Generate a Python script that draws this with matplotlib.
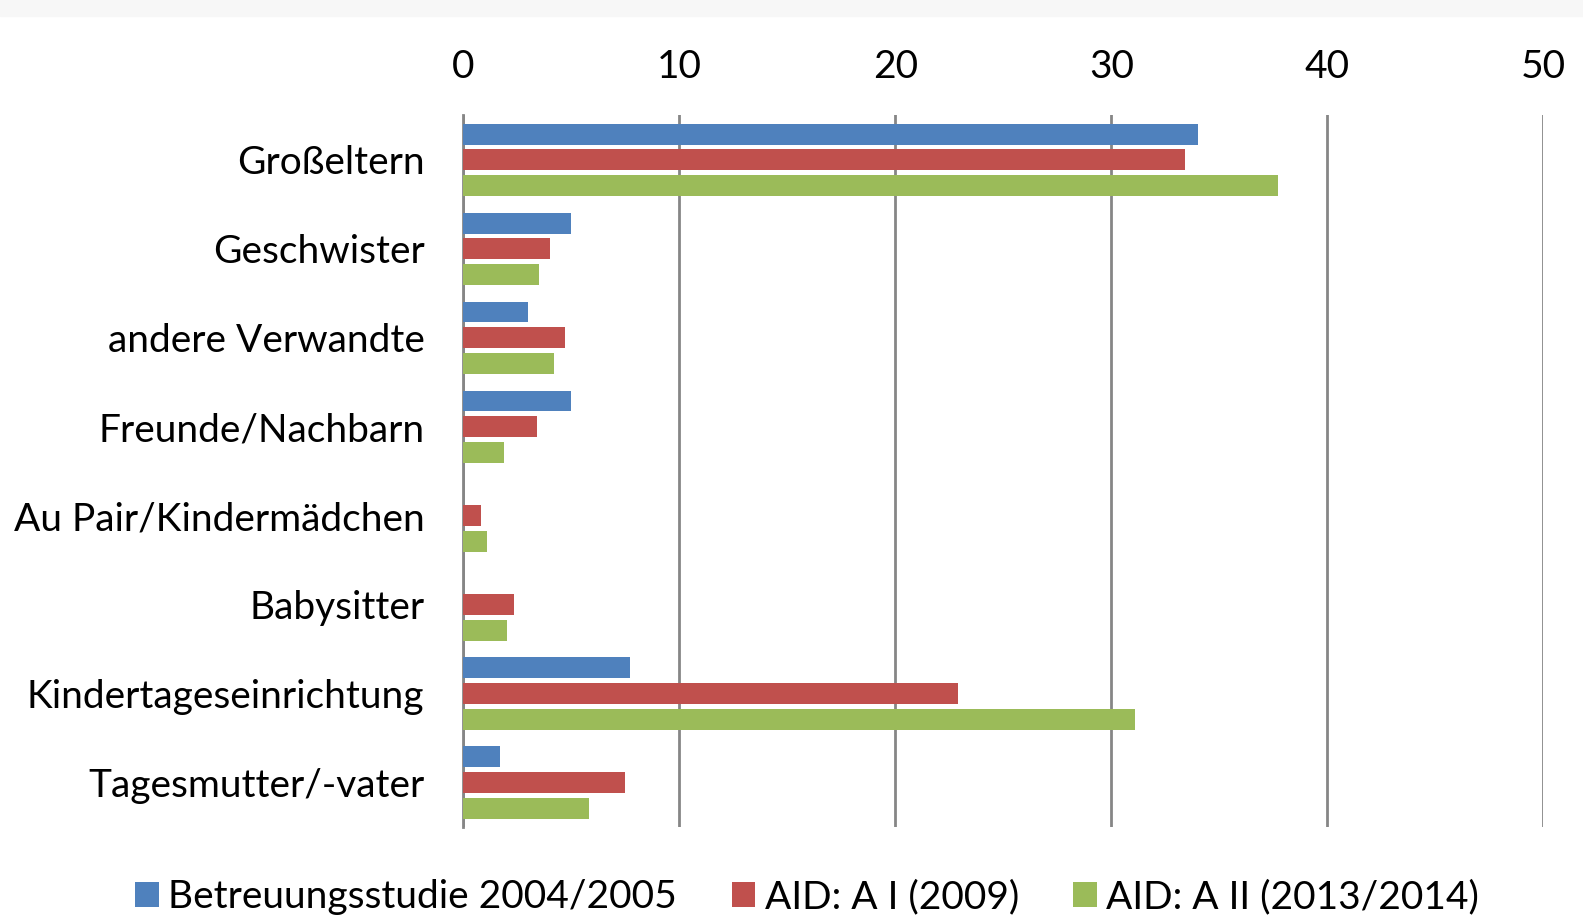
import numpy as np
import matplotlib.pyplot as plt
from matplotlib.patches import Rectangle

# Daten
kategorien = ['Großeltern', 'Geschwister', 'andere Verwandte', 'Freunde/Nachbarn',
              'Au Pair/Kindermädchen', 'Babysitter', 'Kindertageseinrichtung',
              'Tagesmutter/-vater']
betreuung_2004 = [34.0, 5.0, 3.0, 5.0, 0, 0, 7.7, 1.7]
aid_a1_2009 = [33.4, 4.0, 4.7, 3.4, 0.8, 2.35, 22.9, 7.5]
aid_a2_2013 = [37.7, 3.5, 4.2, 1.9, 1.1, 2.0, 31.1, 5.8]
serien = ['Betreuungsstudie 2004/2005', 'AID: A I (2009)', 'AID: A II (2013/2014)']
farben = ['#4F81BD', '#C0504D', '#9BBB59']

plt.rcParams['font.family'] = ['Lato', 'DejaVu Sans']

fig = plt.figure(figsize=(15.83, 9.16), dpi=100)
fig.patches.append(Rectangle((0, 0.983), 1, 0.017, transform=fig.transFigure,
                             color='#f7f7f7', zorder=0))
ax = fig.add_axes([0.2927, 0.097, 0.6823, 0.777])

y = np.arange(len(kategorien))
step = 0.29
hoehe = 0.235
for i, (werte, name, farbe) in enumerate(zip([betreuung_2004, aid_a1_2009, aid_a2_2013], serien, farben)):
    ax.barh(y + (i - 1) * step, werte, height=hoehe, color=farbe, label=name,
            linewidth=0, zorder=3)

ax.set_xlim(0, 50)
ax.set_ylim(len(kategorien) - 0.5, -0.5)
ax.set_xticks(range(0, 51, 10))
ax.xaxis.tick_top()
ax.tick_params(axis='x', length=0, pad=22, labelsize=28)
ax.tick_params(axis='y', length=0, pad=28, labelsize=28)
ax.set_yticks(y)
ax.set_yticklabels(kategorien)
ax.grid(axis='x', color='#868686', linewidth=2, zorder=1)
for s in ['top', 'right', 'bottom']:
    ax.spines[s].set_visible(False)
ax.spines['left'].set_color('#868686')
ax.spines['left'].set_linewidth(2)

fig.legend(loc='lower center', bbox_to_anchor=(0.51, -0.037), ncol=3, frameon=False,
           fontsize=28, handlelength=0.6, handleheight=0.6, handletextpad=0.25,
           columnspacing=1.4)

fig.savefig('out.png', dpi=100)
